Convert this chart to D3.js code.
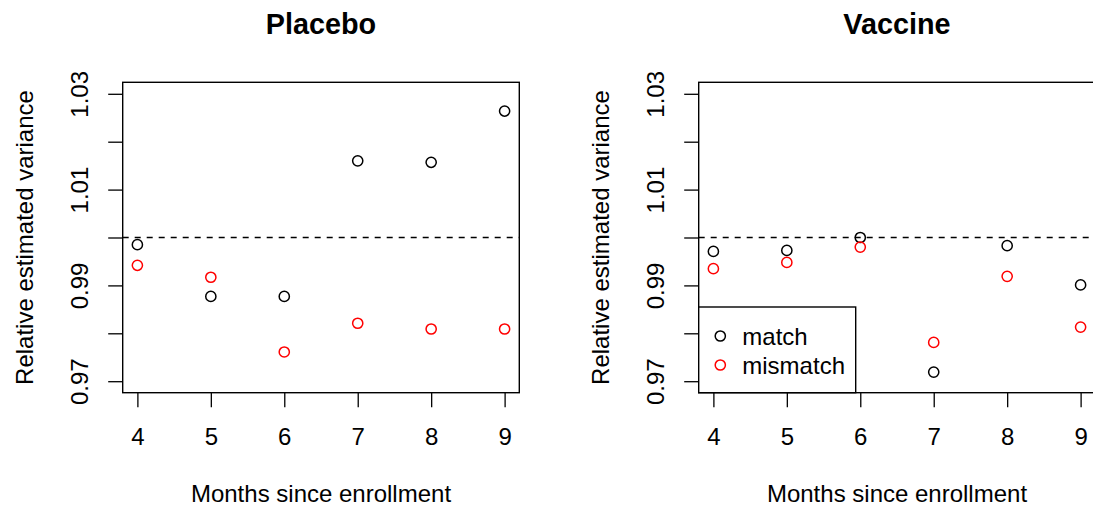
<!DOCTYPE html>
<html lang="en">
<head>
<meta charset="UTF-8">
<title>Relative estimated variance</title>
<script src="https://d3js.org/d3.v7.min.js"></script>
<style>
  body { margin: 0; background: #fff; }
  svg text { font-family: "Liberation Sans", Arial, sans-serif; fill: #000; }
</style>
</head>
<body>
<svg id="chart" width="1093" height="510"></svg>
<script>
  // data
  var months = [4, 5, 6, 7, 8, 9];
  var placeboMatch    = [0.9985, 0.9877, 0.9877, 1.0160, 1.0157, 1.0264];
  var placeboMismatch = [0.9942, 0.9917, 0.9761, 0.9821, 0.9809, 0.9809];
  var vaccineMatch    = [0.9971, 0.9973, 1.0000, 0.9719, 0.9983, 0.9901];
  var vaccineMismatch = [0.9935, 0.9948, 0.9980, 0.9781, 0.9919, 0.9813];
  var yTicks = [0.97, 0.98, 0.99, 1.00, 1.01, 1.02, 1.03];
  var yTickLabels = ["0.97", "", "0.99", "", "1.01", "", "1.03"];
  var yLim = [0.97, 1.03];
  var legendLabels = ["match", "mismatch"];
  var seriesColors = ["#000000", "#ff0000"];

  var svg = d3.select("#chart");

  // R style 4% padding on both axes
  function pad(lim) {
    var d = (lim[1] - lim[0]) * 0.04;
    return [lim[0] - d, lim[1] + d];
  }

  var panels = [
    { title: "Placebo", left: 122.7, series: [placeboMatch, placeboMismatch], legend: false },
    { title: "Vaccine", left: 698.7, series: [vaccineMatch, vaccineMismatch], legend: true }
  ];

  var plotTop = 82.3, plotH = 310.4, plotW = 396.6;

  panels.forEach(function(p) {
    var h = plotH, w = plotW;
    var g = svg.append("g").attr("transform", "translate(" + p.left + "," + plotTop + ")");

    var x = d3.scaleLinear().domain(pad([d3.min(months), d3.max(months)])).range([0, w]);
    var y = d3.scaleLinear().domain(pad(yLim)).range([h, 0]);

    // axes
    var xAxis = g.append("g")
      .attr("transform", "translate(0," + h + ")")
      .call(d3.axisBottom(x).tickValues(months).tickSize(14.5).tickPadding(0).tickFormat(d3.format("d")));
    var yAxis = g.append("g")
      .call(d3.axisLeft(y).tickValues(yTicks).tickSize(14.5).tickFormat(function(d, i) { return yTickLabels[i]; }));

    [xAxis, yAxis].forEach(function(a) {
      a.select(".domain").remove();
      a.selectAll(".tick line").attr("stroke", "#000").attr("stroke-width", 1.3);
      a.selectAll("text").style("font-size", "24px").attr("font-family", null);
    });
    xAxis.selectAll("text").attr("y", 0).attr("dy", null).attr("transform", "translate(0,52.5)");
    yAxis.selectAll("text")
      .attr("x", null).attr("dy", null)
      .attr("text-anchor", "middle")
      .attr("transform", "translate(-34.5,0) rotate(-90)");

    // reference line at 1
    g.append("line")
      .attr("x1", 0).attr("x2", w)
      .attr("y1", y(1)).attr("y2", y(1))
      .attr("stroke", "#000").attr("stroke-width", 1.3)
      .attr("stroke-dasharray", "6,6");

    // points
    p.series.forEach(function(vals, si) {
      g.append("g").selectAll("circle")
        .data(vals)
        .enter()
        .append("circle")
          .attr("cx", function(d, i) { return x(months[i]); })
          .attr("cy", function(d) { return y(d); })
          .attr("r", 5.1)
          .attr("fill", "none")
          .attr("stroke", seriesColors[si])
          .attr("stroke-width", 1.5);
    });

    // box
    g.append("rect")
      .attr("width", w).attr("height", h)
      .attr("fill", "none").attr("stroke", "#000").attr("stroke-width", 1.4);

    // titles and labels
    g.append("text")
      .attr("x", w / 2).attr("y", 33.5 - plotTop)
      .attr("text-anchor", "middle")
      .style("font-size", "28.8px").style("font-weight", "bold")
      .text(p.title);
    g.append("text")
      .attr("x", w / 2).attr("y", 502 - plotTop)
      .attr("text-anchor", "middle")
      .style("font-size", "24px")
      .text("Months since enrollment");
    g.append("text")
      .attr("transform", "translate(" + (33.3 - 122.7) + "," + (h / 2) + ") rotate(-90)")
      .attr("text-anchor", "middle")
      .style("font-size", "24px")
      .text("Relative estimated variance");

    if (p.legend) {
      var lg = g.append("g").attr("transform", "translate(0," + (307 - plotTop) + ")");
      lg.append("rect")
        .attr("width", 157).attr("height", h - (307 - plotTop))
        .attr("fill", "#fff").attr("stroke", "#000").attr("stroke-width", 1.4);
      legendLabels.forEach(function(lab, i) {
        lg.append("circle")
          .attr("cx", 21.6).attr("cy", 29 + i * 29)
          .attr("r", 5.1).attr("fill", "none")
          .attr("stroke", seriesColors[i]).attr("stroke-width", 1.5);
        lg.append("text")
          .attr("x", 43.6).attr("y", 38 + i * 29)
          .style("font-size", "24px")
          .text(lab);
      });
    }
  });
</script>
</body>
</html>
